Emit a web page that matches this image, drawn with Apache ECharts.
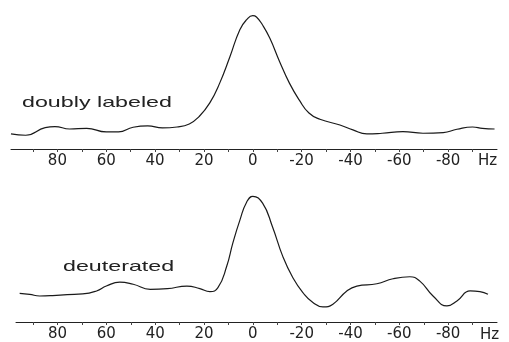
<!DOCTYPE html>
<html>
<head>
<meta charset="utf-8">
<script src="https://cdn.jsdelivr.net/npm/echarts@6/dist/echarts.min.js"></script>
<style>
  html, body { margin: 0; padding: 0; background: #fff; }
  #chart { width: 509px; height: 342px; }
</style>
</head>
<body>
<div id="chart"></div>
<script>
// frequency offsets (Hz) and intensities
const labeledHz = [99, 93, 85, 81, 75, 68, 60, 55, 49, 43, 37, 31, 26, 22, 17.6, 13.5, 9.4, 5.3, 2.5, 0, -1.5, -4, -7, -11, -15, -19, -23, -27.5, -35.7, -41, -46.7, -53, -61.5, -69.7, -78, -83.6, -90, -94, -99]
const labeledVal = [11.3, 10.3, 16, 16.8, 15, 15.5, 12.8, 12.8, 16.3, 17.3, 15.8, 16.5, 18.8, 24.3, 34.6, 49.6, 69, 89.5, 97, 100, 99, 93, 83, 65.5, 49.4, 36.8, 27, 22.3, 18, 14.3, 11.3, 11.8, 13, 11.8, 12.3, 14.8, 16.5, 15.5, 15]

const deutHz = [95.5, 91.4, 87.3, 82, 76, 69.7, 64, 60, 54.5, 49, 42, 35, 27, 21.7, 17.6, 14.3, 10.7, 8.2, 5.3, 2.5, 0, -4, -8, -12.3, -16.4, -20.5, -24.6, -28.7, -32.8, -38.5, -42.6, -50.8, -57.4, -64.3, -68.4, -73.8, -79.5, -83.6, -89, -93, -96.3]
const deutVal = [22.8, 22, 20.7, 21, 21.8, 22.3, 24.7, 28.6, 31.7, 30, 26, 26.5, 28.6, 26.5, 24.2, 27.3, 44.3, 62.7, 81, 95.5, 100, 94.5, 76, 52, 35.2, 23.4, 15.5, 12, 14.2, 24.7, 28.6, 30.4, 34.4, 36, 32.5, 20.7, 12.8, 16.8, 24.7, 24.2, 22]

const tickLabels = [80, 60, 40, 20, 0, -20, -40, -60, -80]

const chart = echarts.init(document.getElementById('chart'))

const axisFont = { fontFamily: 'DejaVu Sans', fontSize: 15, color: '#222' }

function hzAxis(gridIndex, max) {
  return {
    type: 'value',
    gridIndex: gridIndex,
    min: -100,
    max: max,
    interval: 10,
    inverse: true,
    splitLine: { show: false },
    axisLine: { lineStyle: { color: '#222', width: 1 } },
    axisTick: { show: true, length: 3, lineStyle: { color: '#444' } },
    axisLabel: Object.assign({
      margin: 5,
      showMinLabel: false,
      showMaxLabel: false,
      formatter: (v) => (tickLabels.includes(v) ? String(v) : '')
    }, axisFont)
  }
}

const option = {
  animation: false,
  grid: [
    { left: 11, width: 486, top: 9, height: 140 },
    { left: 16, width: 481, top: 190, height: 133 }
  ],
  xAxis: [hzAxis(0, 99), hzAxis(1, 97)],
  yAxis: [
    { type: 'value', gridIndex: 0, min: 0, max: 105, show: false },
    { type: 'value', gridIndex: 1, min: 0, max: 105, show: false }
  ],
  series: [
    {
      name: 'doubly labeled',
      type: 'line',
      xAxisIndex: 0,
      yAxisIndex: 0,
      smooth: true,
      showSymbol: false,
      data: labeledHz.map((h, i) => [h, labeledVal[i]]),
      lineStyle: { color: '#1a1a1a', width: 1.2 }
    },
    {
      name: 'deuterated',
      type: 'line',
      xAxisIndex: 1,
      yAxisIndex: 1,
      smooth: true,
      showSymbol: false,
      data: deutHz.map((h, i) => [h, deutVal[i]]),
      lineStyle: { color: '#1a1a1a', width: 1.2 }
    }
  ],
  graphic: [
    {
      type: 'text', x: 22, y: 95, scaleX: 1.55,
      style: { text: 'doubly labeled', font: '15px "Liberation Sans"', fill: '#222', verticalAlign: 'top' }
    },
    {
      type: 'text', x: 63, y: 259, scaleX: 1.55,
      style: { text: 'deuterated', font: '15px "Liberation Sans"', fill: '#222', verticalAlign: 'top' }
    },
    {
      type: 'text', x: 478, y: 154,
      style: { text: 'Hz', font: '15px "DejaVu Sans"', fill: '#222', verticalAlign: 'top' }
    },
    {
      type: 'text', x: 480, y: 328,
      style: { text: 'Hz', font: '15px "DejaVu Sans"', fill: '#222', verticalAlign: 'top' }
    }
  ]
}

chart.setOption(option)
</script>
</body>
</html>
